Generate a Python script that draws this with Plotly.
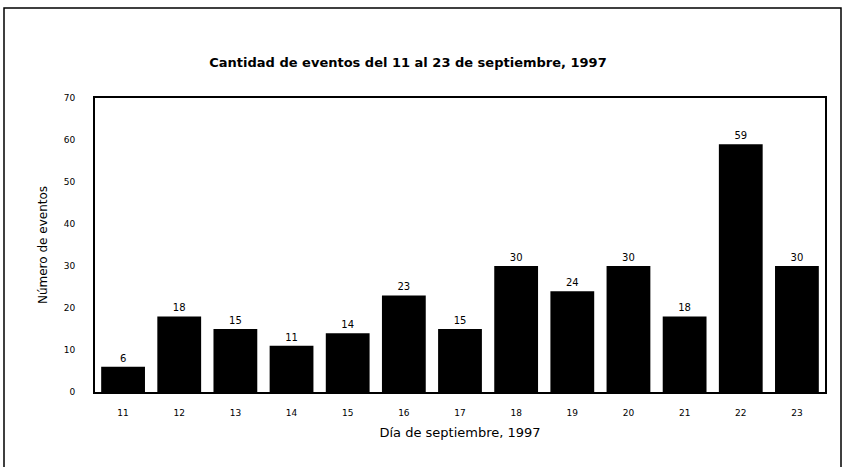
import plotly.graph_objects as go

# Events per day, 11-23 September 1997
dias = ["11", "12", "13", "14", "15", "16", "17", "18", "19", "20", "21", "22", "23"]
eventos = [6, 18, 15, 11, 14, 23, 15, 30, 24, 30, 18, 59, 30]
y_ticks = [0, 10, 20, 30, 40, 50, 60, 70]

W, H = 844, 467
ML, MR, MT, MB = 95, 19, 98, 75
PW, PH = W - ML - MR, H - MT - MB
FONT = "DejaVu Sans"


def px_x(x):
    return (x - ML) / PW


def px_y(y):
    return 1 - (y - MT) / PH


fig = go.Figure(
    go.Bar(
        x=dias,
        y=eventos,
        marker=dict(color="black", line=dict(width=0)),
        text=[str(v) for v in eventos],
        textposition="outside",
        textfont=dict(size=10, color="black", family=FONT),
        cliponaxis=False,
    )
)

fig.update_layout(
    width=W,
    height=H,
    margin=dict(l=ML, r=MR, t=MT, b=MB),
    paper_bgcolor="white",
    plot_bgcolor="white",
    showlegend=False,
    bargap=0.22,
    font=dict(family=FONT, size=10, color="black"),
    title=dict(
        text="<b>Cantidad de eventos del 11 al 23 de septiembre, 1997</b>",
        x=px_x(408),
        xref="paper",
        xanchor="center",
        y=1 - 62 / H,
        yanchor="middle",
        font=dict(size=13, color="black", family=FONT),
    ),
    shapes=[
        # outer frame of the chart
        dict(
            type="rect",
            xref="paper",
            yref="paper",
            x0=px_x(4),
            x1=px_x(841),
            y0=px_y(480),
            y1=px_y(8),
            line=dict(color="black", width=1.5),
            fillcolor="rgba(0,0,0,0)",
            layer="below",
        )
    ],
)

fig.update_xaxes(
    type="category",
    showline=True,
    linecolor="black",
    linewidth=2,
    mirror=True,
    ticks="",
    showgrid=False,
    ticklabelstandoff=11,
    tickfont=dict(size=9),
    title=dict(text="Día de septiembre, 1997", font=dict(size=13), standoff=11),
)

fig.update_yaxes(
    range=[0, 70],
    tickvals=y_ticks,
    ticktext=[str(t) for t in y_ticks],
    showline=True,
    linecolor="black",
    linewidth=2,
    mirror=True,
    ticks="",
    showgrid=False,
    zeroline=False,
    ticklabelstandoff=16,
    tickfont=dict(size=9),
    title=dict(text="Número de eventos", font=dict(size=12), standoff=14),
)

fig.write_html("out.html")
